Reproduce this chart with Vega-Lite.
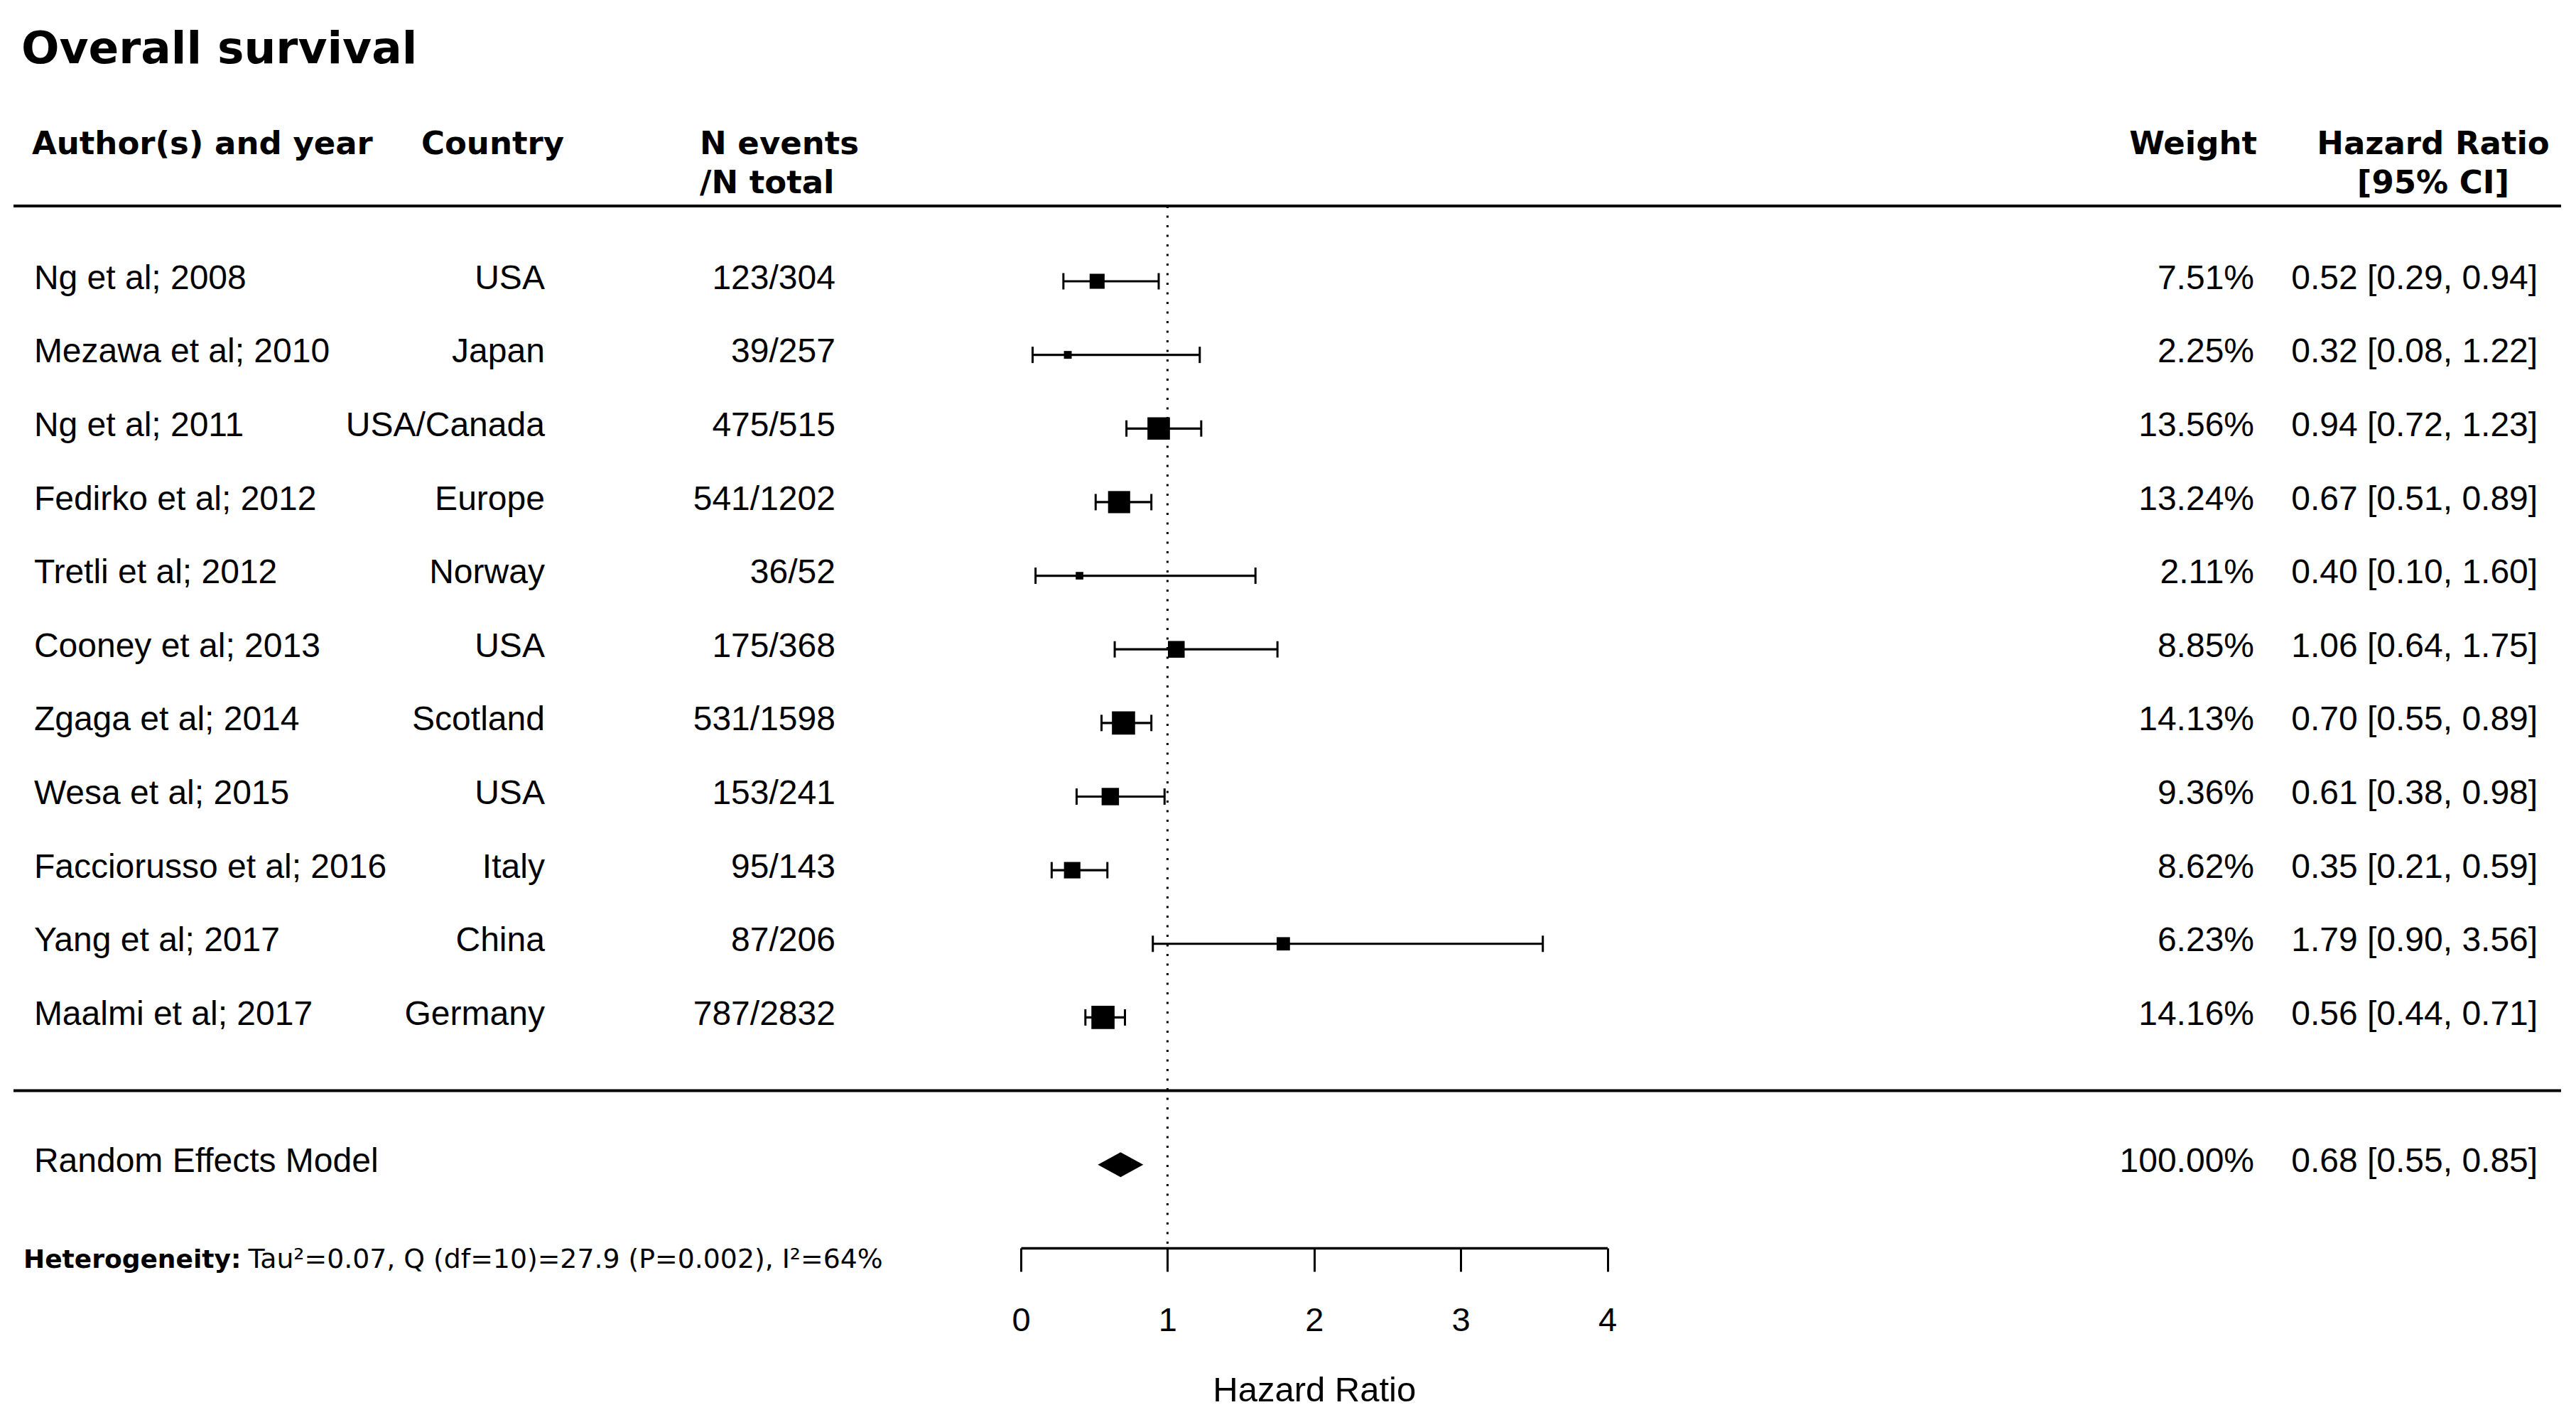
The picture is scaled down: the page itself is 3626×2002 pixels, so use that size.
{
  "$schema": "https://vega.github.io/schema/vega-lite/v6.json",
  "width": 3626,
  "height": 1757,
  "autosize": {"type": "none"},
  "padding": {"left": 0, "top": 0, "right": 0, "bottom": 245},
  "background": "white",
  "config": {"view": {"stroke": null}},
  "datasets": {
    "studies": [
      {"row": 1, "study": "Ng et al; 2008", "country": "USA", "events": "123/304", "weight": 7.51, "hr": 0.52, "lo": 0.29, "hi": 0.94, "weightLabel": "7.51%", "hrLabel": "0.52 [0.29, 0.94]"},
      {"row": 2, "study": "Mezawa et al; 2010", "country": "Japan", "events": "39/257", "weight": 2.25, "hr": 0.32, "lo": 0.08, "hi": 1.22, "weightLabel": "2.25%", "hrLabel": "0.32 [0.08, 1.22]"},
      {"row": 3, "study": "Ng et al; 2011", "country": "USA/Canada", "events": "475/515", "weight": 13.56, "hr": 0.94, "lo": 0.72, "hi": 1.23, "weightLabel": "13.56%", "hrLabel": "0.94 [0.72, 1.23]"},
      {"row": 4, "study": "Fedirko et al; 2012", "country": "Europe", "events": "541/1202", "weight": 13.24, "hr": 0.67, "lo": 0.51, "hi": 0.89, "weightLabel": "13.24%", "hrLabel": "0.67 [0.51, 0.89]"},
      {"row": 5, "study": "Tretli et al; 2012", "country": "Norway", "events": "36/52", "weight": 2.11, "hr": 0.40, "lo": 0.10, "hi": 1.60, "weightLabel": "2.11%", "hrLabel": "0.40 [0.10, 1.60]"},
      {"row": 6, "study": "Cooney et al; 2013", "country": "USA", "events": "175/368", "weight": 8.85, "hr": 1.06, "lo": 0.64, "hi": 1.75, "weightLabel": "8.85%", "hrLabel": "1.06 [0.64, 1.75]"},
      {"row": 7, "study": "Zgaga et al; 2014", "country": "Scotland", "events": "531/1598", "weight": 14.13, "hr": 0.70, "lo": 0.55, "hi": 0.89, "weightLabel": "14.13%", "hrLabel": "0.70 [0.55, 0.89]"},
      {"row": 8, "study": "Wesa et al; 2015", "country": "USA", "events": "153/241", "weight": 9.36, "hr": 0.61, "lo": 0.38, "hi": 0.98, "weightLabel": "9.36%", "hrLabel": "0.61 [0.38, 0.98]"},
      {"row": 9, "study": "Facciorusso et al; 2016", "country": "Italy", "events": "95/143", "weight": 8.62, "hr": 0.35, "lo": 0.21, "hi": 0.59, "weightLabel": "8.62%", "hrLabel": "0.35 [0.21, 0.59]"},
      {"row": 10, "study": "Yang et al; 2017", "country": "China", "events": "87/206", "weight": 6.23, "hr": 1.79, "lo": 0.90, "hi": 3.56, "weightLabel": "6.23%", "hrLabel": "1.79 [0.90, 3.56]"},
      {"row": 11, "study": "Maalmi et al; 2017", "country": "Germany", "events": "787/2832", "weight": 14.16, "hr": 0.56, "lo": 0.44, "hi": 0.71, "weightLabel": "14.16%", "hrLabel": "0.56 [0.44, 0.71]"}
    ],
    "summary": [
      {"row": 13, "label": "Random Effects Model", "hr": 0.68, "lo": 0.55, "hi": 0.85, "weightLabel": "100.00%", "hrLabel": "0.68 [0.55, 0.85]"}
    ]
  },
  "layer": [
    {
      "data": {"name": "studies"},
      "mark": {"type": "rule", "color": "black", "strokeWidth": 3.2},
      "encoding": {
        "x": {
          "field": "lo", "type": "quantitative",
          "scale": {"domain": [0, 4], "range": [1437, 2262.5], "nice": false, "zero": false},
          "axis": {
            "values": [0, 1, 2, 3, 4], "format": "d", "grid": false,
            "domain": true, "domainColor": "black", "domainWidth": 3.5,
            "ticks": true, "tickSize": 33, "tickWidth": 3, "tickColor": "black",
            "labelFont": "Liberation Sans", "labelFontSize": 47, "labelColor": "black",
            "labelBaseline": "alphabetic", "labelPadding": 83, "labelFlush": false, "labelOverlap": false,
            "title": "Hazard Ratio", "titleFont": "Liberation Sans", "titleFontSize": 49,
            "titleFontWeight": "normal", "titleColor": "black", "titleBaseline": "alphabetic", "titleY": 215
          }
        },
        "x2": {"field": "hi"},
        "y": {
          "field": "row", "type": "quantitative",
          "scale": {"domain": [1, 11], "range": [396, 1432.4], "nice": false, "zero": false},
          "axis": null
        }
      }
    },
    {
      "data": {"values": [{"part": "top"}]},
      "mark": {"type": "rule", "color": "black", "strokeWidth": 4},
      "encoding": {
        "x": {"datum": -6.871},
        "x2": {"datum": 10.505},
        "y": {"datum": -0.0228, "axis": null}
      }
    },
    {
      "data": {"values": [{"part": "bottom"}]},
      "mark": {"type": "rule", "color": "black", "strokeWidth": 4},
      "encoding": {
        "x": {"datum": -6.871},
        "x2": {"datum": 10.505},
        "y": {"datum": 11.995, "axis": null}
      }
    },
    {
      "data": {"values": [{"part": "null line"}]},
      "mark": {"type": "rule", "color": "black", "strokeWidth": 3, "strokeDash": [3, 10.5]},
      "encoding": {
        "x": {"datum": 1},
        "y": {"datum": -0.0228, "axis": null},
        "y2": {"datum": 14.129}
      }
    },
    {
      "data": {"name": "studies"},
      "mark": {"type": "tick", "orient": "vertical", "size": 23, "thickness": 3, "color": "black", "opacity": 1},
      "encoding": {
        "x": {"field": "lo", "type": "quantitative"},
        "y": {"field": "row", "type": "quantitative", "axis": null}
      }
    },
    {
      "data": {"name": "studies"},
      "mark": {"type": "tick", "orient": "vertical", "size": 23, "thickness": 3, "color": "black", "opacity": 1},
      "encoding": {
        "x": {"field": "hi", "type": "quantitative"},
        "y": {"field": "row", "type": "quantitative", "axis": null}
      }
    },
    {
      "data": {"name": "studies"},
      "mark": {"type": "square", "filled": true, "color": "black", "opacity": 1, "strokeWidth": 0},
      "encoding": {
        "x": {"field": "hr", "type": "quantitative"},
        "y": {"field": "row", "type": "quantitative", "axis": null},
        "size": {
          "field": "weight", "type": "quantitative",
          "scale": {"type": "pow", "exponent": 1.5, "domain": [2.11, 14.16], "range": [114, 1066], "zero": false},
          "legend": null
        }
      }
    },
    {
      "data": {"name": "summary"},
      "mark": {"type": "point", "shape": "M-1,0L0,-0.547L1,0L0,0.547Z", "filled": true, "color": "black", "opacity": 1, "size": 4096, "strokeWidth": 0},
      "encoding": {
        "x": {"field": "hr", "type": "quantitative"},
        "y": {"field": "row", "type": "quantitative", "axis": null}
      }
    },
    {
      "data": {"name": "studies"},
      "mark": {"type": "text", "font": "Liberation Sans", "fontSize": 48, "align": "left", "baseline": "alphabetic", "dy": 10.6, "color": "black"},
      "encoding": {
        "x": {"datum": -6.731},
        "y": {"field": "row", "type": "quantitative", "axis": null},
        "text": {"field": "study"}
      }
    },
    {
      "data": {"name": "studies"},
      "mark": {"type": "text", "font": "Liberation Sans", "fontSize": 48, "align": "right", "baseline": "alphabetic", "dy": 10.6, "color": "black"},
      "encoding": {
        "x": {"datum": -3.247},
        "y": {"field": "row", "type": "quantitative", "axis": null},
        "text": {"field": "country"}
      }
    },
    {
      "data": {"name": "studies"},
      "mark": {"type": "text", "font": "Liberation Sans", "fontSize": 48, "align": "right", "baseline": "alphabetic", "dy": 10.6, "color": "black"},
      "encoding": {
        "x": {"datum": -1.265},
        "y": {"field": "row", "type": "quantitative", "axis": null},
        "text": {"field": "events"}
      }
    },
    {
      "data": {"name": "studies"},
      "mark": {"type": "text", "font": "Liberation Sans", "fontSize": 48, "align": "right", "baseline": "alphabetic", "dy": 10.6, "color": "black"},
      "encoding": {
        "x": {"datum": 8.412},
        "y": {"field": "row", "type": "quantitative", "axis": null},
        "text": {"field": "weightLabel"}
      }
    },
    {
      "data": {"name": "studies"},
      "mark": {"type": "text", "font": "Liberation Sans", "fontSize": 48, "align": "right", "baseline": "alphabetic", "dy": 10.6, "color": "black"},
      "encoding": {
        "x": {"datum": 10.346},
        "y": {"field": "row", "type": "quantitative", "axis": null},
        "text": {"field": "hrLabel"}
      }
    },
    {
      "data": {"name": "summary"},
      "mark": {"type": "text", "font": "Liberation Sans", "fontSize": 48, "align": "left", "baseline": "alphabetic", "dy": 10.6, "color": "black"},
      "encoding": {
        "x": {"datum": -6.731},
        "y": {"field": "row", "type": "quantitative", "axis": null},
        "text": {"field": "label"}
      }
    },
    {
      "data": {"name": "summary"},
      "mark": {"type": "text", "font": "Liberation Sans", "fontSize": 48, "align": "right", "baseline": "alphabetic", "dy": 10.6, "color": "black"},
      "encoding": {
        "x": {"datum": 8.412},
        "y": {"field": "row", "type": "quantitative", "axis": null},
        "text": {"field": "weightLabel"}
      }
    },
    {
      "data": {"name": "summary"},
      "mark": {"type": "text", "font": "Liberation Sans", "fontSize": 48, "align": "right", "baseline": "alphabetic", "dy": 10.6, "color": "black"},
      "encoding": {
        "x": {"datum": 10.346},
        "y": {"field": "row", "type": "quantitative", "axis": null},
        "text": {"field": "hrLabel"}
      }
    },
    {
      "data": {"values": [{"t": "Overall survival"}]},
      "mark": {"type": "text", "font": "DejaVu Sans", "fontWeight": "bold", "fontSize": 63, "align": "left", "baseline": "alphabetic", "color": "black"},
      "encoding": {
        "x": {"datum": -6.818},
        "y": {"datum": -1.959, "axis": null},
        "text": {"field": "t"}
      }
    },
    {
      "data": {"values": [{"t": "Author(s) and year"}]},
      "mark": {"type": "text", "font": "DejaVu Sans", "fontWeight": "bold", "fontSize": 45, "align": "left", "baseline": "alphabetic", "color": "black"},
      "encoding": {
        "x": {"datum": -6.745},
        "y": {"datum": -0.730, "axis": null},
        "text": {"field": "t"}
      }
    },
    {
      "data": {"values": [{"t": "Country"}]},
      "mark": {"type": "text", "font": "DejaVu Sans", "fontWeight": "bold", "fontSize": 45, "align": "left", "baseline": "alphabetic", "color": "black"},
      "encoding": {
        "x": {"datum": -4.090},
        "y": {"datum": -0.730, "axis": null},
        "text": {"field": "t"}
      }
    },
    {
      "data": {"values": [{"t": "N events"}]},
      "mark": {"type": "text", "font": "DejaVu Sans", "fontWeight": "bold", "fontSize": 45, "align": "left", "baseline": "alphabetic", "color": "black"},
      "encoding": {
        "x": {"datum": -2.190},
        "y": {"datum": -0.730, "axis": null},
        "text": {"field": "t"}
      }
    },
    {
      "data": {"values": [{"t": "/N total"}]},
      "mark": {"type": "text", "font": "DejaVu Sans", "fontWeight": "bold", "fontSize": 45, "align": "left", "baseline": "alphabetic", "color": "black"},
      "encoding": {
        "x": {"datum": -2.190},
        "y": {"datum": -0.199, "axis": null},
        "text": {"field": "t"}
      }
    },
    {
      "data": {"values": [{"t": "Weight"}]},
      "mark": {"type": "text", "font": "DejaVu Sans", "fontWeight": "bold", "fontSize": 45, "align": "right", "baseline": "alphabetic", "color": "black"},
      "encoding": {
        "x": {"datum": 8.431},
        "y": {"datum": -0.730, "axis": null},
        "text": {"field": "t"}
      }
    },
    {
      "data": {"values": [{"t": "Hazard Ratio"}]},
      "mark": {"type": "text", "font": "DejaVu Sans", "fontWeight": "bold", "fontSize": 45, "align": "center", "baseline": "alphabetic", "color": "black"},
      "encoding": {
        "x": {"datum": 9.633},
        "y": {"datum": -0.730, "axis": null},
        "text": {"field": "t"}
      }
    },
    {
      "data": {"values": [{"t": "[95% CI]"}]},
      "mark": {"type": "text", "font": "DejaVu Sans", "fontWeight": "bold", "fontSize": 45, "align": "center", "baseline": "alphabetic", "color": "black"},
      "encoding": {
        "x": {"datum": 9.633},
        "y": {"datum": -0.199, "axis": null},
        "text": {"field": "t"}
      }
    },
    {
      "data": {"values": [{"t": "Heterogeneity:"}]},
      "mark": {"type": "text", "font": "DejaVu Sans", "fontWeight": "bold", "fontSize": 36, "align": "left", "baseline": "alphabetic", "color": "black"},
      "encoding": {
        "x": {"datum": -6.803},
        "y": {"datum": 14.402, "axis": null},
        "text": {"field": "t"}
      }
    },
    {
      "data": {"values": [{"t": "Tau²=0.07, Q (df=10)=27.9 (P=0.002), I²=64%"}]},
      "mark": {"type": "text", "font": "DejaVu Sans", "fontSize": 37.8, "align": "left", "baseline": "alphabetic", "color": "black"},
      "encoding": {
        "x": {"datum": -5.270},
        "y": {"datum": 14.402, "axis": null},
        "text": {"field": "t"}
      }
    }
  ]
}
